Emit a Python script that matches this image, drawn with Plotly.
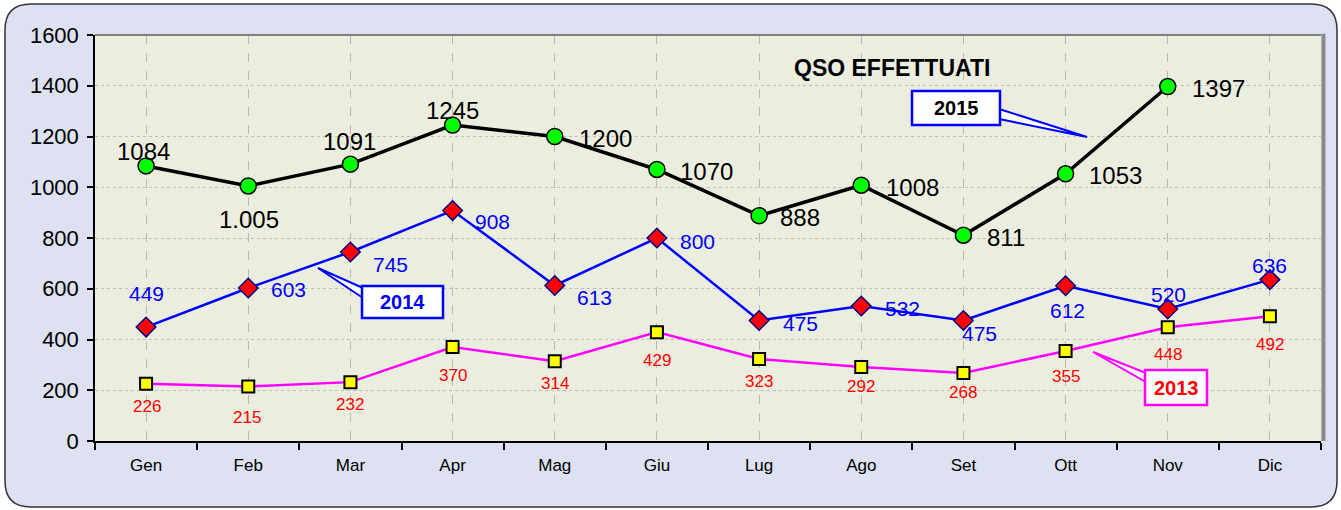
import plotly.graph_objects as go

months = ["Gen", "Feb", "Mar", "Apr", "Mag", "Giu", "Lug", "Ago", "Set", "Ott", "Nov", "Dic"]
qso_2015 = [1084, 1005, 1091, 1245, 1200, 1070, 888, 1008, 811, 1053, 1397, None]
labels_2015 = ["1084", "1.005", "1091", "1245", "1200", "1070", "888", "1008", "811", "1053", "1397", ""]
qso_2014 = [449, 603, 745, 908, 613, 800, 475, 532, 475, 612, 520, 636]
qso_2013 = [226, 215, 232, 370, 314, 429, 323, 292, 268, 355, 448, 492]
y_ticks = [0, 200, 400, 600, 800, 1000, 1200, 1400, 1600]

# label offsets in pixels (dx right, dy down) from each marker
off_2015 = [(-3, -14), (1, 34), (-1, -23), (0, -15), (51, 2), (50, 2), (41, 2), (51, 2), (43, 2), (50, 2), (51, 2), (0, 0)]
off_2014 = [(0, -34), (40, 2), (40, 13), (40, 11), (40, 12), (41, 3), (41, 3), (41, 2), (16, 13), (2, 25), (1, -15), (0, -14)]
off_2013 = [(1, 23), (-1, 31), (0, 22), (0, 28), (0, 22), (0, 28), (0, 22), (0, 20), (0, 20), (0, 26), (0, 27), (0, 28)]

FONT = "Liberation Sans, Arial, sans-serif"
xs = list(range(len(months)))

fig = go.Figure()

fig.add_trace(go.Scatter(
    x=xs, y=qso_2013, mode="lines+markers", name="2013",
    line=dict(color="#FF00FF", width=2.5),
    marker=dict(symbol="square", size=12, color="#FFFF00", line=dict(color="black", width=2)),
))
fig.add_trace(go.Scatter(
    x=xs, y=qso_2014, mode="lines+markers", name="2014",
    line=dict(color="#0000FF", width=2.5),
    marker=dict(symbol="diamond", size=15, color="#FF0000", line=dict(color="#000080", width=1.5)),
))
fig.add_trace(go.Scatter(
    x=xs, y=qso_2015, mode="lines+markers", name="2015",
    line=dict(color="black", width=3.5),
    marker=dict(symbol="circle", size=16, color="#00FF00", line=dict(color="black", width=1.5)),
))

annots = []


def add_labels(values, texts, offsets, size, color):
    for i, (v, t, (dx, dy)) in enumerate(zip(values, texts, offsets)):
        if v is None:
            continue
        annots.append(dict(x=i, y=v, xref="x", yref="y", text=t, showarrow=False,
                           xanchor="center", yanchor="middle", xshift=dx, yshift=-dy,
                           font=dict(family=FONT, size=size, color=color)))


add_labels(qso_2013, [str(v) for v in qso_2013], off_2013, 17, "#FF0000")
add_labels(qso_2014, [str(v) for v in qso_2014], off_2014, 21, "#0000FF")
add_labels(qso_2015, labels_2015, off_2015, 24, "black")

# plot-area geometry (pixels) used to place decorations
L, R, T, B = 95, 1321, 35, 441
W, H = 1341, 510


def px(xpix):
    return (xpix - L) / (R - L)


def py(ypix):
    return (B - ypix) / (B - T)


shapes = []
x0, x1, y0, y1 = px(5), px(1337), py(507), py(4)
rx, ry = 26 / (R - L), 26 / (B - T)
frame = (f"M {x0+rx},{y1} L {x1-rx},{y1} Q {x1},{y1} {x1},{y1-ry} L {x1},{y0+ry} "
         f"Q {x1},{y0} {x1-rx},{y0} L {x0+rx},{y0} Q {x0},{y0} {x0},{y0+ry} "
         f"L {x0},{y1-ry} Q {x0},{y1} {x0+rx},{y1} Z")
shapes.append(dict(type="path", path=frame, xref="paper", yref="paper", layer="below",
                   fillcolor="#DDE1F1", line=dict(color="#333333", width=1.5)))
shapes.append(dict(type="rect", xref="paper", yref="paper", x0=0, x1=1, y0=0, y1=1, layer="below",
                   fillcolor="#EBEEDF", line=dict(width=0)))
shapes.append(dict(type="line", xref="paper", yref="paper", x0=0, x1=1, y0=1, y1=1,
                   line=dict(color="#808080", width=2)))
shapes.append(dict(type="line", xref="paper", yref="paper", x0=1.002, x1=1.002, y0=0, y1=1.003,
                   line=dict(color="#8A8A8A", width=4)))


def callout(box, base, tip, edge, text, txtcolor, size):
    bx0, by0, bx1, by1 = box
    (ax, ay), (bx, by) = base
    tx, ty = tip
    shapes.append(dict(type="path", xref="paper", yref="paper",
                       path=f"M {px(ax)},{py(ay)} L {px(tx)},{py(ty)} L {px(bx)},{py(by)} Z",
                       fillcolor="white", line=dict(color=edge, width=2)))
    shapes.append(dict(type="rect", xref="paper", yref="paper",
                       x0=px(bx0), x1=px(bx1), y0=py(by1), y1=py(by0),
                       fillcolor="white", line=dict(color=edge, width=2.5)))
    return dict(xref="paper", yref="paper", x=px((bx0 + bx1) / 2), y=py((by0 + by1) / 2),
                text=f"<b>{text}</b>", showarrow=False, xanchor="center", yanchor="middle",
                font=dict(family=FONT, size=size, color=txtcolor))


annots.append(callout((912, 91, 1000, 125), ((999, 109), (999, 119)), (1087, 137), "#0000FF", "2015", "black", 20))
annots.append(callout((362, 286, 443, 318), ((363, 288), (363, 298)), (318, 268), "#0000FF", "2014", "#0000FF", 20))
annots.append(callout((1145, 370, 1207, 405), ((1146, 373), (1146, 382)), (1093, 352), "#FF00FF", "2013", "#FF0000", 20))
annots.append(dict(xref="paper", yref="paper", x=px(892), y=py(68), text="<b>QSO EFFETTUATI</b>",
                   showarrow=False, xanchor="center", yanchor="middle",
                   font=dict(family=FONT, size=23, color="black")))

fig.update_layout(
    width=W, height=H,
    margin=dict(l=L, r=W - R, t=T, b=H - B),
    paper_bgcolor="white", plot_bgcolor="rgba(0,0,0,0)",
    showlegend=False,
    shapes=shapes, annotations=annots,
    font=dict(family=FONT, color="black"),
)
fig.update_xaxes(
    range=[-0.5, len(months) - 0.5], tickmode="array", tickvals=xs, ticktext=months,
    showgrid=True, gridcolor="#B8B8B8", griddash="dash", gridwidth=1,
    ticks="", showline=True, linecolor="black", linewidth=1.5,
    tickfont=dict(family=FONT, size=17, color="black"), ticklabelstandoff=8,
    minor=dict(tickmode="array", tickvals=[i - 0.5 for i in range(len(months) + 1)],
               ticks="outside", ticklen=7, tickcolor="black", tickwidth=1.5, showgrid=False),
    zeroline=False, fixedrange=True,
)
fig.update_yaxes(
    range=[0, 1600], tickmode="array", tickvals=y_ticks,
    showgrid=True, gridcolor="#BDBDBD", griddash="dot", gridwidth=1,
    ticks="outside", ticklen=6, tickcolor="black", tickwidth=1.5,
    showline=True, linecolor="black", linewidth=1.5,
    tickfont=dict(family=FONT, size=22, color="black"), ticklabelstandoff=4,
    zeroline=False, fixedrange=True,
)

fig.write_html("out.html", post_script="document.body.style.margin='0';",
               config={"displayModeBar": False})
